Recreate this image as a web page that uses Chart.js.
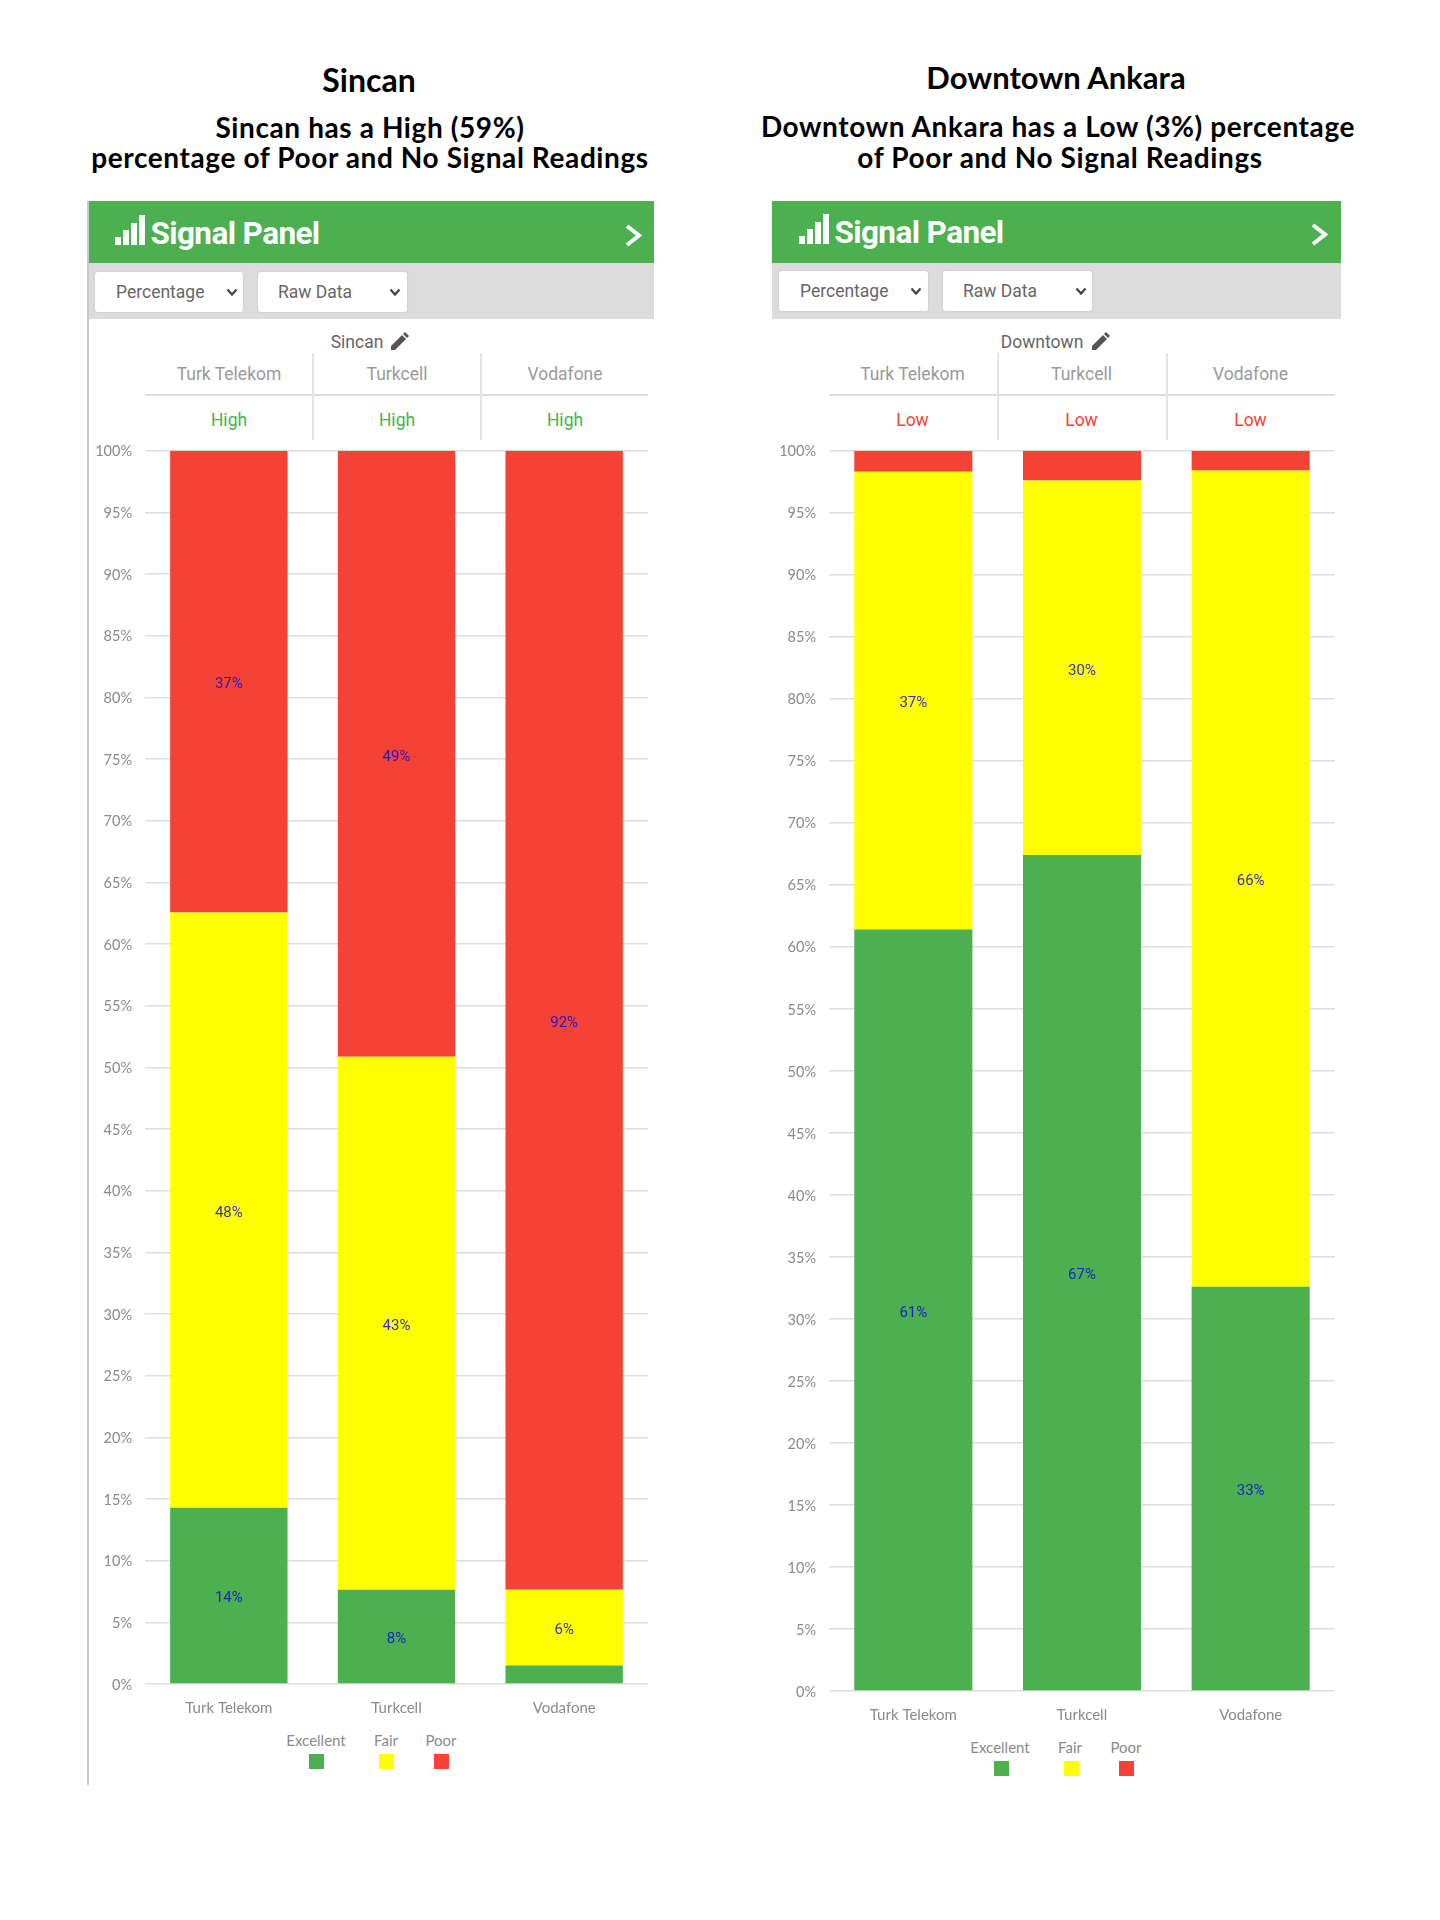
<!DOCTYPE html>
<html><head><meta charset="utf-8">
<script src="https://cdn.jsdelivr.net/npm/chart.js@4"></script>
<style>
html,body{margin:0;padding:0;background:#fff;}
body{width:1440px;height:1920px;position:relative;overflow:hidden;font-family:Roboto,sans-serif;}
.abs{position:absolute;white-space:nowrap;}
.ctr{transform:translate(-50%,-50%);}
.ttl{font-family:Lato,sans-serif;font-weight:700;color:#000;}
canvas{position:absolute;}
</style></head><body>
<script>
const categories = ['Turk Telekom','Turkcell','Vodafone'];
const seriesNames = ['Excellent','Fair','Poor'];
const sincanExcellent = [14.3, 7.65, 1.5];
const sincanFair = [48.25, 43.2, 6.15];
const sincanPoor = [37.45, 49.15, 92.35];
const downtownExcellent = [61.4, 67.4, 32.6];
const downtownFair = [36.9, 30.2, 65.8];
const downtownPoor = [1.7, 2.4, 1.6];
const sincanRatings = ['High','High','High'];
const downtownRatings = ['Low','Low','Low'];
const GREEN='#4CAF50', YELLOW='#FFFF00', RED='#F44336';
const seriesColors=[GREEN,YELLOW,RED];

function el(cssText, html){const d=document.createElement('div');d.className='abs';d.style.cssText=cssText;if(html!==undefined)d.innerHTML=html;document.body.appendChild(d);return d;}
function txt(x,y,s,size,color,extra){return el(`left:${x}px;top:${y}px;font-size:${size}px;color:${color};${extra||''}`,s).classList.add('ctr');}
function svg(x,y,w,h,inner){el(`left:${x}px;top:${y}px;width:${w}px;height:${h}px;`,`<svg width="${w}" height="${h}" viewBox="0 0 ${w} ${h}" style="display:block">${inner}</svg>`);}

const valueLabels={id:'valueLabels',afterDatasetsDraw(c){
  const g=c.ctx;g.save();g.font='15px Roboto, sans-serif';g.textAlign='center';g.textBaseline='middle';g.fillStyle='rgba(10,10,220,.85)';
  c.data.datasets.forEach((ds,i)=>{c.getDatasetMeta(i).data.forEach((bar,j)=>{
    if(ds.data[j]<5)return;
    g.fillText(Math.round(ds.data[j])+'%',bar.x,(bar.y+bar.base)/2+3);
  });});g.restore();}};

function panel(p){
  const t=(cx,cy,s,sz,ls)=>{const d=el(`left:${cx}px;top:${cy}px;font-size:${sz}px;letter-spacing:${ls}px;`,s);d.classList.add('ttl','ctr');};
  t(p.titleX,p.titleY,p.title,p.titleSize,0);
  p.sub.forEach(l=>t(l[0],l[1],l[2],p.subSize,p.subSpacing));
  el(`left:${p.left}px;top:201px;width:${p.width}px;height:62px;background:${GREEN};`);
  el(`left:${p.left}px;top:263px;width:${p.width}px;height:56px;background:#DCDCDC;`);
  if(p.border) el(`left:${p.left}px;top:201px;width:2px;height:1584px;background:#C8C8C8;`);
  svg(p.iconX,p.iconY,31,31,`<g fill="#fff"><rect x="0" y="22" width="6" height="8"/><rect x="8" y="15" width="6" height="15"/><rect x="16" y="8" width="6" height="22"/><rect x="24" y="0" width="6" height="30"/></g>`);
  txt(p.panelTextX,p.iconY+18,'Signal Panel',31.5,'#fff','font-weight:700;letter-spacing:-.6px;');
  svg(p.chevX,p.chevY,18,25,`<path d="M3 3 L15 12.5 L3 22" fill="none" stroke="#fff" stroke-width="4"/>`);
  p.selects.forEach(s=>{
    el(`left:${s.x}px;top:${s.y}px;width:${s.w}px;height:40px;background:#fff;border-radius:3px;box-shadow:0 0 2px #bbb;`);
    el(`left:${s.tx}px;top:${s.y}px;line-height:40px;font-size:17.5px;color:#666;`,s.t);
    svg(s.cx,s.y+16,12,9,`<path d="M1.5 1.5 L6 6.5 L10.5 1.5" fill="none" stroke="#444" stroke-width="2.2"/>`);
  });
  txt(p.locX,p.locY,p.loc,17.5,'#666');
  svg(p.penX,p.locY-10,18,18,`<path d="M0 18 L0 14 L11 3 L15 7 L4 18 Z M12 2 L14 0 L18 4 L16 6 Z" fill="#555"/>`);
  el(`left:${p.plotL}px;top:394px;width:${p.plotR-p.plotL}px;height:2px;background:#DDD;`);
  p.vlines.forEach(v=>el(`left:${v}px;top:353px;width:2px;height:87px;background:#E4E4E4;`));
  categories.forEach((c,i)=>{
    txt(p.cols[i],374,c,17.5,'#9A9A9A');
    txt(p.cols[i],420,p.ratings[i],17.5,p.ratingColor);
  });
  const cv=document.createElement('canvas');
  const cTop=429;
  const cH=p.plotB-cTop+46;
  cv.width=p.width;cv.height=cH;
  cv.style.cssText=`left:${p.left}px;top:${cTop}px;width:${p.width}px;height:${cH}px;`;
  document.body.appendChild(cv);
  new Chart(cv,{type:'bar',plugins:[valueLabels],data:{labels:categories,datasets:seriesNames.map((n,i)=>({label:n,data:p.series[i],backgroundColor:seriesColors[i],borderWidth:0,barPercentage:.7,categoryPercentage:1}))},
   options:{responsive:false,animation:false,devicePixelRatio:1,
    layout:{padding:{top:0,right:p.left+p.width-p.plotR,left:0,bottom:0}},
    plugins:{legend:{display:false},tooltip:{enabled:false},title:{display:false}},
    scales:{
      x:{stacked:true,grid:{display:false},border:{display:false},
         ticks:{color:'#8A8A8A',font:{family:'Lato, sans-serif',size:15},padding:7,maxRotation:0},
         afterFit(s){s.height=46;}},
      y:{stacked:true,min:0,max:100,grid:{color:'#DDDDDD',lineWidth:1.6,drawTicks:false},border:{display:false},
         ticks:{stepSize:5,autoSkip:false,color:'#8A8A8A',font:{family:'Lato, sans-serif',size:14.5},padding:13,labelOffset:1,callback:v=>v+'%'},
         afterFit(s){s.width=p.plotL-p.left;}}
    }}});
  seriesNames.forEach((n,i)=>{
    txt(p.legT[i],p.plotB+56,n,15,'#8A8A8A','font-family:Lato,sans-serif;');
    el(`left:${p.legB[i]}px;top:${p.plotB+70}px;width:15px;height:15px;background:${seriesColors[i]};`);
  });
}

panel({title:'Sincan',titleX:369,titleY:79,titleSize:32,subSize:28,subSpacing:.6,
  sub:[[370,127,'Sincan has a High (59%)'],[370,157,'percentage of Poor and No Signal Readings']],
  left:87,width:567,border:true,iconX:115,iconY:215,panelTextX:235,chevX:624,chevY:223,
  selects:[{x:95,y:272,w:148,t:'Percentage',tx:116,cx:226},{x:258,y:272,w:149,t:'Raw Data',tx:278,cx:389}],
  loc:'Sincan',locX:357,locY:342,penX:391,
  plotL:145,plotR:648,plotB:1684,vlines:[312,480],cols:[229,397,565],ratings:sincanRatings,ratingColor:GREEN,
  series:[sincanExcellent,sincanFair,sincanPoor],legT:[316,386,441],legB:[309,379,434]});
panel({title:'Downtown Ankara',titleX:1056,titleY:77,titleSize:31,subSize:28,subSpacing:.6,
  sub:[[1058,126,'Downtown Ankara has a Low (3%) percentage'],[1060,157,'of Poor and No Signal Readings']],
  left:772,width:569,border:false,iconX:799,iconY:214,panelTextX:919,chevX:1310,chevY:222,
  selects:[{x:779,y:271,w:149,t:'Percentage',tx:800,cx:910},{x:943,y:271,w:149,t:'Raw Data',tx:963,cx:1075}],
  loc:'Downtown',locX:1042,locY:342,penX:1092,
  plotL:829,plotR:1335,plotB:1691,vlines:[997,1166],cols:[912.5,1081.5,1250.5],ratings:downtownRatings,ratingColor:RED,
  series:[downtownExcellent,downtownFair,downtownPoor],legT:[1000,1070,1126],legB:[994,1064,1119]});
</script>
</body></html>
